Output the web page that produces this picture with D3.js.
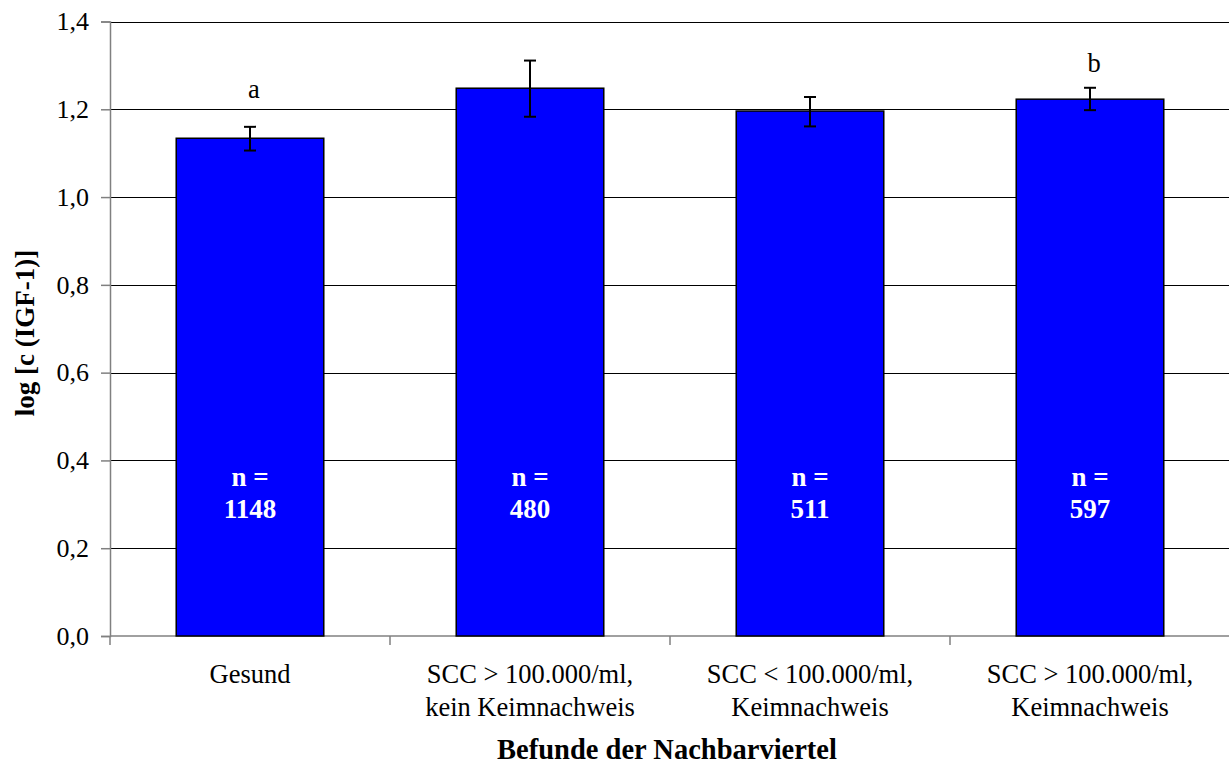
<!DOCTYPE html>
<html><head><meta charset="utf-8">
<script src="https://cdn.jsdelivr.net/npm/d3@7"></script>
<style>
html,body{margin:0;padding:0;background:#fff;}
</style></head>
<body><svg id="chart" width="1229" height="764"></svg>
<script>
const categories = [["Gesund"], ["SCC > 100.000/ml,", "kein Keimnachweis"], ["SCC < 100.000/ml,", "Keimnachweis"], ["SCC > 100.000/ml,", "Keimnachweis"]];
const means = [1.134, 1.248, 1.196, 1.223];
const errLow = [1.106, 1.183, 1.161, 1.198];
const errHigh = [1.160, 1.311, 1.228, 1.249];
const counts = ["1148", "480", "511", "597"];
const sigLetters = ["a", "", "", "b"];
const sigLetterY = [1.226, null, null, 1.286];
const yTicks = [0, 0.2, 0.4, 0.6, 0.8, 1.0, 1.2, 1.4];
const yTitle = "log [c (IGF-1)]";
const xTitle = "Befunde der Nachbarviertel";

const FONT = "Liberation Serif, Tinos, Times New Roman, DejaVu Serif, serif";
const svg = d3.select("#chart").attr("font-family", FONT);
const M = {left: 110, right: 1230, top: 21.5, bottom: 636};
const x = d3.scaleBand().domain(d3.range(categories.length)).range([M.left, M.right]).padding(0);
const y = d3.scaleLinear().domain([0, 1.4]).range([M.bottom, M.top]);
const barW = x.bandwidth() * 0.527;
const fmt = v => d3.format(".1f")(v).replace(".", ",");

// gridlines
svg.append("g").selectAll("line").data(yTicks.filter(t => t > 0)).join("line")
  .attr("x1", M.left).attr("x2", M.right)
  .attr("y1", d => Math.round(y(d)) + 0.5).attr("y2", d => Math.round(y(d)) + 0.5)
  .attr("stroke", "#000").attr("stroke-width", 1);

// y axis
const yAxis = svg.append("g").attr("transform", `translate(${M.left},0)`)
  .call(d3.axisLeft(y).tickValues(yTicks).tickFormat(fmt).tickSize(9).tickPadding(12));
yAxis.attr("font-family", FONT);
yAxis.select(".domain").attr("stroke", "#808080").attr("stroke-width", 1.5);
yAxis.selectAll(".tick line").attr("stroke", "#808080").attr("stroke-width", 1.5);
yAxis.selectAll(".tick text").attr("font-size", 26).attr("fill", "#000").attr("font-family", FONT);

// x axis
const xAxisG = svg.append("g").attr("transform", `translate(0,${M.bottom})`);
xAxisG.append("line").attr("x1", M.left).attr("x2", M.right).attr("y1", 0).attr("y2", 0)
  .attr("stroke", "#808080").attr("stroke-width", 1.5);
const bounds = d3.range(categories.length + 1).map(i => M.left + i * x.step());
xAxisG.selectAll("line.tk").data(bounds).join("line").attr("class", "tk")
  .attr("x1", d => d).attr("x2", d => d).attr("y1", 0).attr("y2", 9)
  .attr("stroke", "#808080").attr("stroke-width", 1.5);
const catG = svg.append("g").selectAll("text").data(categories).join("text")
  .attr("text-anchor", "middle").attr("font-size", 26.5).attr("fill", "#000");
catG.each(function(lines, i) {
  const t = d3.select(this);
  lines.forEach((ln, j) => {
    t.append("tspan").attr("x", x(i) + x.bandwidth() / 2).attr("y", 683 + j * 33).text(ln);
  });
});

// bars
svg.append("g").selectAll("rect").data(means).join("rect")
  .attr("x", (d, i) => x(i) + (x.bandwidth() - barW) / 2)
  .attr("y", d => y(d)).attr("width", barW).attr("height", d => y(0) - y(d))
  .attr("fill", "#0000ff").attr("stroke", "#000").attr("stroke-width", 1.5);

// error bars
const eg = svg.append("g").attr("stroke", "#000").attr("stroke-width", 2);
means.forEach((m, i) => {
  const cx = x(i) + x.bandwidth() / 2;
  eg.append("line").attr("x1", cx).attr("x2", cx).attr("y1", y(errLow[i])).attr("y2", y(errHigh[i]));
  eg.append("line").attr("x1", cx - 6).attr("x2", cx + 6).attr("y1", y(errLow[i])).attr("y2", y(errLow[i]));
  eg.append("line").attr("x1", cx - 6).attr("x2", cx + 6).attr("y1", y(errHigh[i])).attr("y2", y(errHigh[i]));
});

// n labels
const ng = svg.append("g").attr("fill", "#fff").attr("font-weight", "bold").attr("font-size", 27).attr("text-anchor", "middle");
counts.forEach((c, i) => {
  const cx = x(i) + x.bandwidth() / 2;
  ng.append("text").attr("x", cx).attr("y", y(0.342)).text("n =");
  ng.append("text").attr("x", cx).attr("y", y(0.269)).text(c);
});

// significance letters
svg.append("g").selectAll("text").data(sigLetters.map((s, i) => ({s, i})).filter(d => d.s)).join("text")
  .attr("x", d => x(d.i) + x.bandwidth() / 2 + 4).attr("y", d => y(sigLetterY[d.i]))
  .attr("text-anchor", "middle").attr("font-size", 26.5).text(d => d.s);

// titles
svg.append("text").attr("transform", "translate(34,333) rotate(-90)")
  .attr("text-anchor", "middle").attr("font-weight", "bold").attr("font-size", 27).text(yTitle);
svg.append("text").attr("x", 667).attr("y", 759)
  .attr("text-anchor", "middle").attr("font-weight", "bold").attr("font-size", 28.5).text(xTitle);
</script></body></html>
